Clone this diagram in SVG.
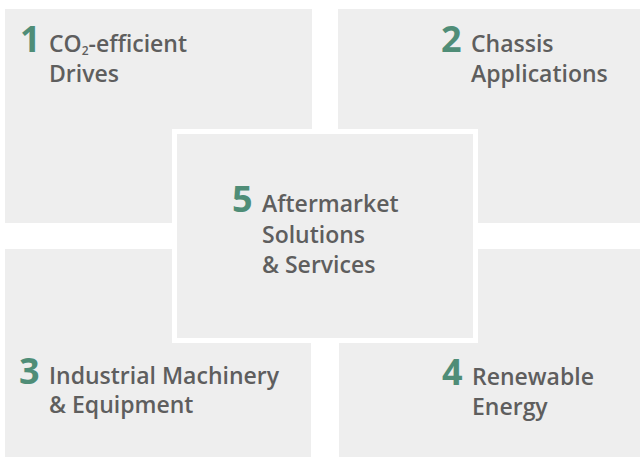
<svg xmlns="http://www.w3.org/2000/svg" width="640" height="457" viewBox="0 0 640 457">
<style>
.box{fill:#eeeeee}
.frame{fill:#ffffff}
.num{font-family:"Open Sans","Noto Sans",sans-serif;font-weight:700;font-size:36px;fill:#4f8d77}
.lbl{font-family:"Open Sans","Noto Sans",sans-serif;font-weight:600;font-size:23px;fill:#5e5e5e}
.sub{font-size:12px}
</style>
<rect width="640" height="457" fill="#ffffff"/>
<g id="node1">
<rect class="box" x="5" y="9" width="307" height="214"/>
<text class="num" x="20" y="52">1</text>
<text class="lbl" x="49" y="52">CO<tspan class="sub" dy="3">2</tspan><tspan dy="-3">-efficient</tspan></text>
<text class="lbl" x="49" y="82">Drives</text>
</g>
<g id="node2">
<rect class="box" x="338" y="9" width="302" height="214"/>
<text class="num" x="441" y="52">2</text>
<text class="lbl" x="471" y="52">Chassis</text>
<text class="lbl" x="471" y="82">Applications</text>
</g>
<g id="node3">
<rect class="box" x="5" y="249" width="306" height="208"/>
<text class="num" x="19" y="384">3</text>
<text class="lbl" x="49" y="384">Industrial Machinery</text>
<text class="lbl" x="49" y="413">&amp; Equipment</text>
</g>
<g id="node4">
<rect class="box" x="339" y="249" width="301" height="208"/>
<text class="num" x="442" y="385">4</text>
<text class="lbl" x="472" y="385">Renewable</text>
<text class="lbl" x="472" y="415">Energy</text>
</g>
<g id="node5">
<rect class="frame" x="172" y="129" width="306" height="214"/>
<rect class="box" x="177" y="134" width="296" height="204"/>
<text class="num" x="232" y="212">5</text>
<text class="lbl" x="262" y="212">Aftermarket</text>
<text class="lbl" x="262" y="243">Solutions</text>
<text class="lbl" x="262" y="273">&amp; Services</text>
</g>
<g id="connectors"/>
</svg>
